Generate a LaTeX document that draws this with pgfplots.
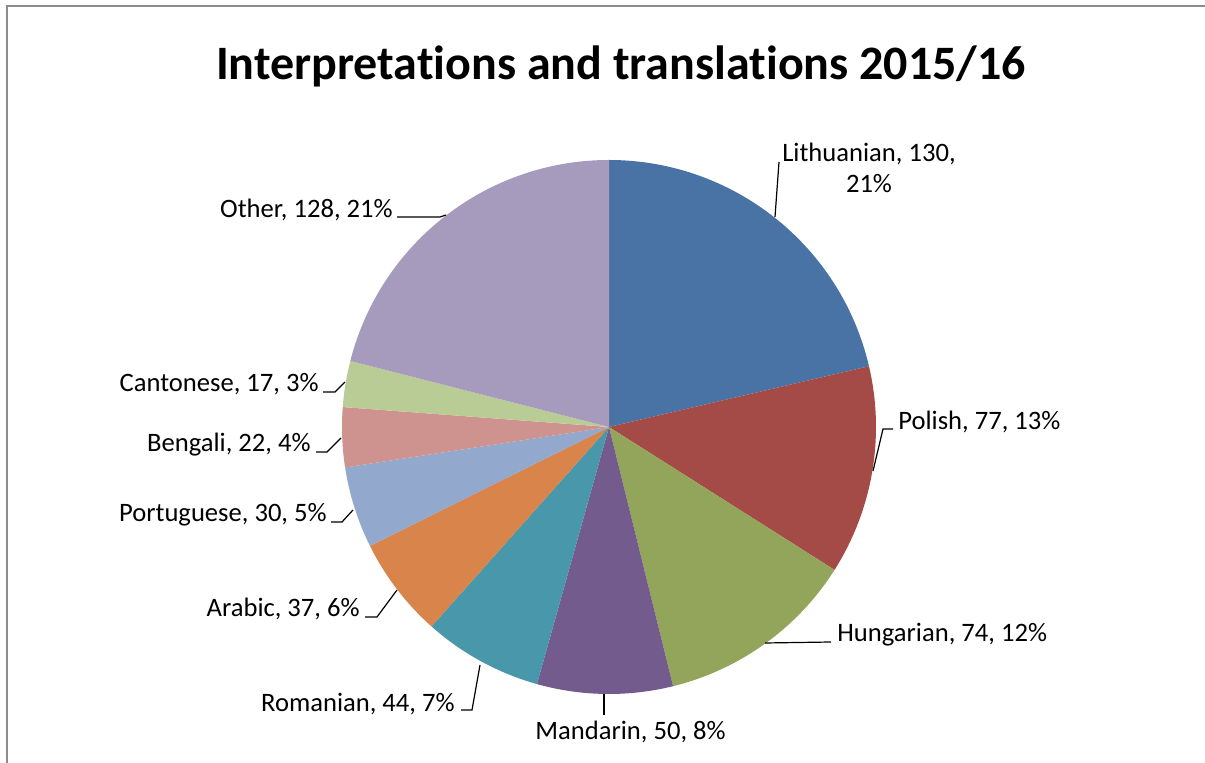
\documentclass[border=0pt]{standalone}
\usepackage{pgfplots}
\pgfplotsset{compat=1.18}
\usepackage{fontspec}
\setmainfont{Carlito}[Ligatures=NoCommon]

% slice colours, clockwise from 12 o'clock
\definecolor{slice1}{HTML}{4A73A5}  % Lithuanian
\definecolor{slice2}{HTML}{A54B47}  % Polish
\definecolor{slice3}{HTML}{93A55A}  % Hungarian
\definecolor{slice4}{HTML}{735B8E}  % Mandarin
\definecolor{slice5}{HTML}{4897AB}  % Romanian
\definecolor{slice6}{HTML}{D8844A}  % Arabic
\definecolor{slice7}{HTML}{92A8CC}  % Portuguese
\definecolor{slice8}{HTML}{CE928F}  % Bengali
\definecolor{slice9}{HTML}{BACC95}  % Cantonese
\definecolor{slice10}{HTML}{A69BBC} % Other

\begin{document}
\begin{tikzpicture}[x=0.5pt, y=-0.5pt]
\useasboundingbox (0,0) rectangle (1205,763);
\draw[color=black!45, line width=1pt] (7,6) rectangle (1230,800);

\node[font=\bfseries\fontsize{24}{28}\selectfont, anchor=base, inner sep=0pt] at (621,80)
  {Interpretations and translations 2015/16};

\coordinate (pc) at (609,427);
\begin{axis}[hide axis, at={(pc)}, anchor=center,
    x=133.5pt, y=133.5pt, xmin=-1, xmax=1, ymin=-1, ymax=1, clip=false]
  \gdef\total{0}
  \pgfplotsforeachungrouped \v in {130,77,74,50,44,37,30,22,17,128} {
    \pgfmathsetmacro\n{\total+\v}
    \xdef\total{\n}
  }
  \gdef\cum{0}
  \gdef\k{0}
  \pgfplotsforeachungrouped \v in {130,77,74,50,44,37,30,22,17,128} {
    \pgfmathtruncatemacro\kk{\k+1}
    \xdef\k{\kk}
    \pgfmathsetmacro\a{90-(\cum/\total)*360}
    \pgfmathsetmacro\b{90-((\cum+\v)/\total)*360}
    \edef\temp{\noexpand\fill[slice\k] (axis cs:0,0) -- (axis cs:{cos(\a)},{sin(\a)})
      arc[start angle=\a, end angle=\b, radius=133.5pt] -- cycle;}
    \temp
    \pgfmathsetmacro\n{\cum+\v}
    \xdef\cum{\n}
  }
\end{axis}

% leader lines
\begin{scope}[line width=0.6pt]
  \draw (779,162) -- (775,217);
  \draw (893,429) -- (883,429) -- (873,471);
  \draw (831,642) -- (765,643);
  \draw (604,694) -- (604,715);
  \draw (461,710) -- (472,710) -- (480,665);
  \draw (365,617) -- (377,617) -- (397,590);
  \draw (331,522) -- (342,522) -- (353,510);
  \draw (316,452) -- (327,452) -- (341,438);
  \draw (323,392) -- (335,392) -- (345,382);
  \draw (397,217) -- (440,217) -- (446,215);
\end{scope}

% data labels
\begin{scope}[font=\fontsize{13.3}{15.5}\selectfont, inner sep=0pt]
  \node[anchor=base, align=center] at (869,193) {Lithuanian, 130,\\21\%};
  \node[anchor=base west] at (898,430) {Polish, 77, 13\%};
  \node[anchor=base west] at (837,642) {Hungarian, 74, 12\%};
  \node[anchor=base west] at (535,740) {Mandarin, 50, 8\%};
  \node[anchor=base east] at (455,712) {Romanian, 44, 7\%};
  \node[anchor=base east] at (360,617) {Arabic, 37, 6\%};
  \node[anchor=base east] at (327,522) {Portuguese, 30, 5\%};
  \node[anchor=base east] at (311,452) {Bengali, 22, 4\%};
  \node[anchor=base east] at (319,392) {Cantonese, 17, 3\%};
  \node[anchor=base east] at (393,218) {Other, 128, 21\%};
\end{scope}
\end{tikzpicture}
\end{document}
